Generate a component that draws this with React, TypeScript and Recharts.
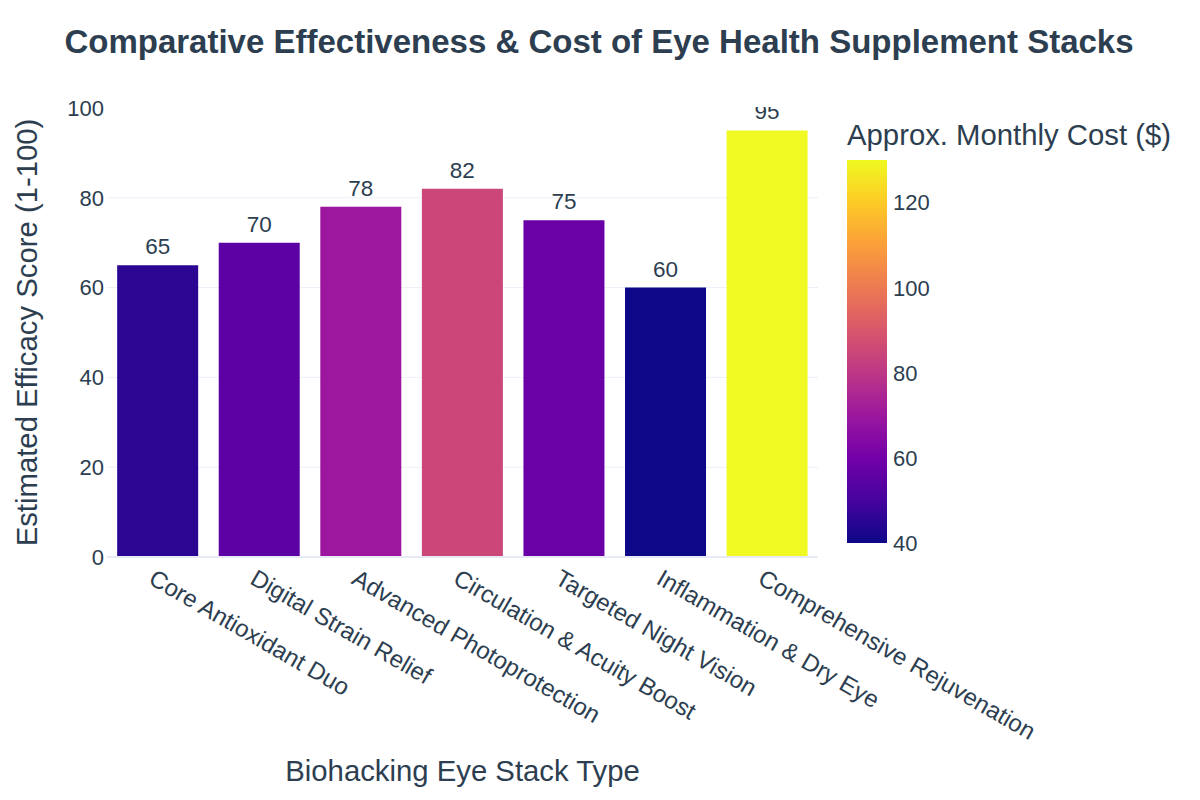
import React from 'react';
import { BarChart, Bar, XAxis, YAxis, CartesianGrid, Cell, LabelList, ReferenceLine } from 'recharts';

const categories = [
  'Core Antioxidant Duo',
  'Digital Strain Relief',
  'Advanced Photoprotection',
  'Circulation & Acuity Boost',
  'Targeted Night Vision',
  'Inflammation & Dry Eye',
  'Comprehensive Rejuvenation',
];
const scores = [65, 70, 78, 82, 75, 60, 95];
const costs = [45, 55, 70, 85, 58, 40, 130];
const scoreTicks = [0, 20, 40, 60, 80, 100];
const gridTicks = [20, 40, 60, 80];
const costTicks = [40, 60, 80, 100, 120];
const costMin = 40;
const costMax = 130;

const data = categories.map((name, i) => ({ name, score: scores[i], cost: costs[i] }));

// plotly "Plasma"
const plasma = ['#0d0887', '#46039f', '#7201a8', '#9c179e', '#bd3786', '#d8576b', '#ed7953', '#fb9f3a', '#fdca26', '#f0f921'];

const hex = (c: string) => [1, 3, 5].map((k) => parseInt(c.slice(k, k + 2), 16));
const plasmaAt = (t: number) => {
  const v = Math.max(0, Math.min(1, t)) * (plasma.length - 1);
  const i = Math.min(Math.floor(v), plasma.length - 2);
  const f = v - i;
  const a = hex(plasma[i]);
  const b = hex(plasma[i + 1]);
  const rgb = a.map((x, k) => Math.round(x + (b[k] - x) * f));
  return `rgb(${rgb.join(',')})`;
};
const costColor = (c: number) => plasmaAt((c - costMin) / (costMax - costMin));

const W = 1200;
const H = 800;
const PLOT_LEFT = 107;
const PLOT_RIGHT = 818;
const PLOT_TOP = 108;
const PLOT_BOTTOM = 557;
const Y_AXIS_W = 60;
const X_AXIS_H = 40;
const TEXT = '#2c3e50';
const FONT = '"Liberation Sans", Arial, sans-serif';

// colorbar geometry
const CB_X = 847;
const CB_W = 40;
const CB_TOP = 160;
const CB_BOTTOM = 543;
const cbY = (v: number) => CB_BOTTOM - ((v - costMin) / (costMax - costMin)) * (CB_BOTTOM - CB_TOP);

const XTick = (props: any) => {
  const { x, y, payload } = props;
  return (
    <g transform={`translate(${x - 2},${y + 11}) rotate(30)`}>
      <text x={0} y={0} dy="0.72em" textAnchor="start" fill={TEXT} fontSize={24} fontFamily={FONT}>
        {payload.value}
      </text>
    </g>
  );
};

// value labels are clipped at the top of the plot area, like the original
const ValueLabel = (props: any) => {
  const { x, y, width, value } = props;
  const top = PLOT_TOP - 1;
  return (
    <svg x={0} y={top} width={W} height={H - top} overflow="hidden">
      <text x={x + width / 2} y={y - 11 - top} textAnchor="middle" fill={TEXT} fontSize={22.5} fontFamily={FONT}>
        {value}
      </text>
    </svg>
  );
};

const App: React.FC = () => {
  return (
    <div style={{ position: 'absolute', left: 0, top: 0, width: W, height: H, background: '#fff', fontFamily: FONT }}>
      <BarChart
        width={W}
        height={H}
        data={data}
        barCategoryGap="10%"
        margin={{
          top: PLOT_TOP,
          right: W - PLOT_RIGHT,
          bottom: H - PLOT_BOTTOM - X_AXIS_H,
          left: PLOT_LEFT - Y_AXIS_W,
        }}
      >
        <CartesianGrid vertical={false} horizontalValues={gridTicks} stroke="#ebf0f8" strokeWidth={1} />
        <XAxis
          dataKey="name"
          height={X_AXIS_H}
          axisLine={false}
          tickLine={false}
          tickSize={0}
          tickMargin={0}
          interval={0}
          tick={<XTick />}
        />
        <YAxis
          width={Y_AXIS_W}
          domain={[0, 100]}
          ticks={scoreTicks}
          axisLine={false}
          tickLine={false}
          tickSize={0}
          tickMargin={3}
          tick={{ fill: TEXT, fontSize: 22, fontFamily: FONT }}
        />
        <ReferenceLine y={0} stroke="#e6ebf5" strokeWidth={2} />
        <Bar dataKey="score" isAnimationActive={false}>
          {data.map((d, i) => (
            <Cell key={i} fill={costColor(d.cost)} />
          ))}
          <LabelList dataKey="score" content={<ValueLabel />} />
        </Bar>
      </BarChart>
      <svg width={W} height={H} style={{ position: 'absolute', left: 0, top: 0, pointerEvents: 'none' }}>
        <defs>
          <linearGradient id="cbGrad" x1="0" y1="1" x2="0" y2="0">
            {plasma.map((c, i) => (
              <stop key={i} offset={`${(i / (plasma.length - 1)) * 100}%`} stopColor={c} />
            ))}
          </linearGradient>
        </defs>
        <text x={599} y={53} textAnchor="middle" fill={TEXT} fontSize={33} fontWeight="bold" fontFamily={FONT}>
          Comparative Effectiveness &amp; Cost of Eye Health Supplement Stacks
        </text>
        <text
          transform={`translate(37,${(PLOT_TOP + PLOT_BOTTOM) / 2}) rotate(-90)`}
          textAnchor="middle"
          fill={TEXT}
          fontSize={29.3}
          fontFamily={FONT}
        >
          Estimated Efficacy Score (1-100)
        </text>
        <text x={(PLOT_LEFT + PLOT_RIGHT) / 2} y={781} textAnchor="middle" fill={TEXT} fontSize={29.3} fontFamily={FONT}>
          Biohacking Eye Stack Type
        </text>
        <text x={CB_X} y={145} fill={TEXT} fontSize={29.3} fontFamily={FONT}>
          Approx. Monthly Cost ($)
        </text>
        <rect x={CB_X} y={CB_TOP} width={CB_W} height={CB_BOTTOM - CB_TOP} fill="url(#cbGrad)" />
        {costTicks.map((t) => (
          <text key={t} x={CB_X + CB_W + 6} y={cbY(t)} dy="0.36em" fill={TEXT} fontSize={22} fontFamily={FONT}>
            {t}
          </text>
        ))}
      </svg>
    </div>
  );
};

export default App;
